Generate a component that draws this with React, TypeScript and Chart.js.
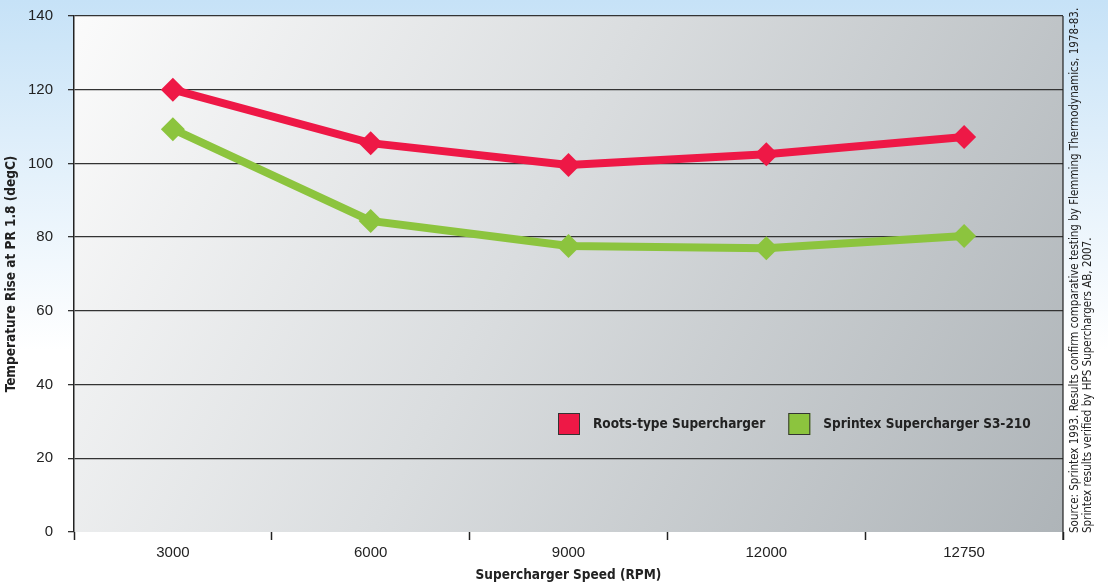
import React, { useEffect, useRef } from "react";
import { Chart, registerables } from "chart.js";

Chart.register(...registerables);

const categories = ["3000", "6000", "9000", "12000", "12750"];
const rootsValues = [120, 105.5, 99.6, 102.5, 107.2];
const sprintexValues = [109.3, 84.4, 77.6, 77.0, 80.3];
const seriesNames = ["Roots-type Supercharger", "Sprintex Supercharger S3-210"];
const yTicks = [0, 20, 40, 60, 80, 100, 120, 140];
const xTitle = "Supercharger Speed (RPM)";
const yTitle = "Temperature Rise at PR 1.8 (degC)";
const sourceLines = [
  "Source: Sprintex 1993. Results confirm comparative testing by Flemming Thermodynamics, 1978-83.",
  "Sprintex results verified by HPS Superchargers AB, 2007.",
];

const RED = "#ee1846";
const GREEN = "#8cc43e";
const NARROW = "'Liberation Sans Narrow', 'DejaVu Sans Condensed', 'Liberation Sans', sans-serif";
const REG = "'Liberation Sans', Arial, sans-serif";

const decorPlugin = {
  id: "decor",
  beforeDraw(chart: any) {
    const { ctx, width, height, chartArea } = chart;
    ctx.save();
    const pg = ctx.createLinearGradient(0, 0, 0, height);
    pg.addColorStop(0, "#c6e2f7");
    pg.addColorStop(0.3, "#e4f1fb");
    pg.addColorStop(0.6, "#ffffff");
    pg.addColorStop(1, "#ffffff");
    ctx.fillStyle = pg;
    ctx.fillRect(0, 0, width, height);
    const { left, top, right, bottom } = chartArea;
    const g = ctx.createLinearGradient(left, top, right, bottom);
    g.addColorStop(0, "#fbfbfb");
    g.addColorStop(0.45, "#dadddf");
    g.addColorStop(1, "#aeb4b8");
    ctx.fillStyle = g;
    ctx.fillRect(left, top, right - left, bottom - top);
    ctx.restore();
  },
  afterDraw(chart: any) {
    const { ctx, chartArea } = chart;
    const { right, bottom, top } = chartArea;
    ctx.save();
    ctx.strokeStyle = "#222";
    ctx.lineWidth = 1.2;
    ctx.beginPath();
    ctx.moveTo(right, top);
    ctx.lineTo(right, bottom + 8);
    ctx.stroke();
    // legend
    const ds = chart.data.datasets;
    ctx.font = `bold 13.5px ${NARROW}`;
    ctx.textBaseline = "middle";
    let x = right - 505;
    const cy = bottom - 108;
    ds.forEach((d: any) => {
      ctx.fillStyle = d.borderColor;
      ctx.fillRect(x, cy - 11, 22, 22);
      ctx.strokeStyle = "#333";
      ctx.lineWidth = 1;
      ctx.strokeRect(x + 0.5, cy - 10.5, 21, 21);
      ctx.fillStyle = "#222";
      ctx.textAlign = "left";
      ctx.fillText(d.label, x + 35, cy);
      x += 35 + ctx.measureText(d.label).width + 23;
    });
    // source note
    ctx.translate(right + 12, bottom + 1);
    ctx.rotate(-Math.PI / 2);
    ctx.font = `11.5px ${NARROW}`;
    ctx.fillStyle = "#222";
    ctx.textAlign = "left";
    ctx.textBaseline = "middle";
    sourceLines.forEach((s, i) => ctx.fillText(s, 0, i * 13));
    ctx.restore();
  },
};

export default function App() {
  const ref = useRef<HTMLCanvasElement>(null);
  useEffect(() => {
    const chart = new Chart(ref.current!, {
      type: "line",
      data: {
        labels: categories,
        datasets: [
          {
            label: seriesNames[0],
            data: rootsValues,
            borderColor: RED,
            backgroundColor: RED,
            borderWidth: 8,
            pointStyle: "rectRot",
            pointRadius: 12,
            pointBorderWidth: 0,
            pointBackgroundColor: RED,
          },
          {
            label: seriesNames[1],
            data: sprintexValues,
            borderColor: GREEN,
            backgroundColor: GREEN,
            borderWidth: 8,
            pointStyle: "rectRot",
            pointRadius: 12,
            pointBorderWidth: 0,
            pointBackgroundColor: GREEN,
          },
        ],
      },
      options: {
        responsive: false,
        animation: false,
        layout: { padding: { left: 0, right: 45, top: 16, bottom: 0 } },
        plugins: { legend: { display: false }, tooltip: { enabled: false } },
        scales: {
          x: {
            type: "category",
            offset: true,
            afterFit: (s: any) => {
              s.height = 53;
            },
            grid: {
              offset: true,
              drawOnChartArea: false,
              drawTicks: true,
              tickLength: 8,
              tickColor: "#222",
              tickWidth: 1.5,
            },
            border: { display: false },
            ticks: {
              padding: 4,
              color: "#222",
              font: { size: 15, family: REG },
            },
            title: {
              display: true,
              text: xTitle,
              color: "#222",
              font: { size: 13.5, weight: "bold", family: NARROW },
              padding: { top: 0, bottom: 1 },
            },
          },
          y: {
            min: 0,
            max: 140,
            afterFit: (s: any) => {
              s.width = 74;
              s.paddingTop = 0;
              s.paddingBottom = 0;
            },
            afterBuildTicks: (s: any) => {
              s.ticks = yTicks.map((v) => ({ value: v }));
            },
            grid: {
              color: (c: any) => (c.tick && c.tick.value === 0 ? "rgba(0,0,0,0)" : "#333"),
              lineWidth: 1.3,
              tickLength: 6,
              tickColor: "#333",
            },
            border: { display: true, color: "#222", width: 1.5 },
            ticks: {
              padding: 15,
              color: "#222",
              font: { size: 15, family: REG },
            },
            title: {
              display: true,
              text: yTitle,
              color: "#222",
              font: { size: 13.5, weight: "bold", family: NARROW },
              padding: { top: 3, bottom: 0 },
            },
          },
        },
      },
      plugins: [decorPlugin],
    } as any);
    return () => chart.destroy();
  }, []);
  return (
    <div style={{ position: "fixed", left: 0, top: 0, width: 1108, height: 585 }}>
      <canvas ref={ref} width={1108} height={585} />
    </div>
  );
}
